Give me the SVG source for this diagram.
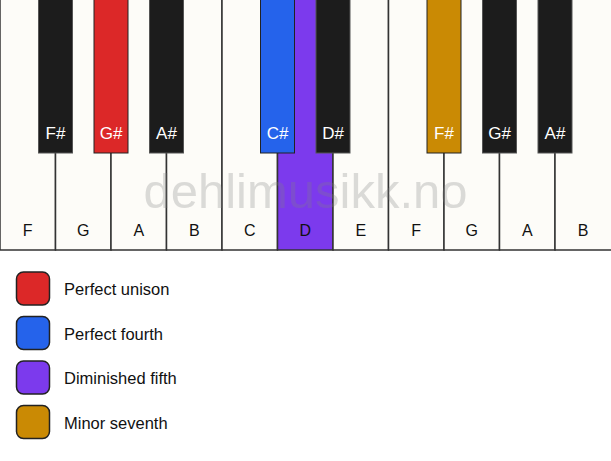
<svg xmlns="http://www.w3.org/2000/svg" width="611" height="461" viewBox="0 0 611 461">
<style>
.w{fill:#fdfcf8;stroke:#333;stroke-width:1.5}
.b{fill:#1c1c1c;stroke:#555;stroke-width:1}
.wl{font-family:"Liberation Sans",Arial,sans-serif;font-size:16px;fill:#111;text-anchor:middle}
.bl{font-family:"Liberation Sans",Arial,sans-serif;font-size:17px;fill:#fff;text-anchor:middle}
.lg{font-family:"Liberation Sans",Arial,sans-serif;font-size:16.5px;fill:#111}
.sw{stroke:#222;stroke-width:1.5}
</style>
<rect width="611" height="461" fill="#fff"/>
<g id="white-keys">
<g id="wF1"><rect class="w" x="0" y="-2" width="55.5" height="252"/><text class="wl" x="27.75" y="236">F</text></g>
<g id="wG1"><rect class="w" x="55.5" y="-2" width="55.5" height="252"/><text class="wl" x="83.25" y="236">G</text></g>
<g id="wA1"><rect class="w" x="111" y="-2" width="55.5" height="252"/><text class="wl" x="138.75" y="236">A</text></g>
<g id="wB1"><rect class="w" x="166.5" y="-2" width="55.5" height="252"/><text class="wl" x="194.25" y="236">B</text></g>
<g id="wC"><rect class="w" x="222" y="-2" width="55.5" height="252"/><text class="wl" x="249.75" y="236">C</text></g>
<g id="wD"><rect class="w" x="277.5" y="-2" width="55.5" height="252" style="fill:#7c3aed"/><text class="wl" x="305.25" y="236">D</text></g>
<g id="wE"><rect class="w" x="333" y="-2" width="55.5" height="252"/><text class="wl" x="360.75" y="236">E</text></g>
<g id="wF2"><rect class="w" x="388.5" y="-2" width="55.5" height="252"/><text class="wl" x="416.25" y="236">F</text></g>
<g id="wG2"><rect class="w" x="444" y="-2" width="55.5" height="252"/><text class="wl" x="471.75" y="236">G</text></g>
<g id="wA2"><rect class="w" x="499.5" y="-2" width="55.5" height="252"/><text class="wl" x="527.25" y="236">A</text></g>
<g id="wB2"><rect class="w" x="555" y="-2" width="57" height="252"/><text class="wl" x="583" y="236">B</text></g>
</g>
<g id="black-keys">
<g id="bFs1"><rect class="b" x="38.5" y="-2" width="34" height="155"/><text class="bl" x="55.5" y="139">F#</text></g>
<g id="bGs1"><rect class="b" x="94" y="-2" width="34" height="155" style="fill:#dc2828;stroke:#222"/><text class="bl" x="111" y="139">G#</text></g>
<g id="bAs1"><rect class="b" x="149.5" y="-2" width="34" height="155"/><text class="bl" x="166.5" y="139">A#</text></g>
<g id="bCs"><rect class="b" x="260.5" y="-2" width="34" height="155" style="fill:#2563eb;stroke:#222"/><text class="bl" x="277.5" y="139">C#</text></g>
<g id="bDs"><rect class="b" x="316" y="-2" width="34" height="155"/><text class="bl" x="333" y="139">D#</text></g>
<g id="bFs2"><rect class="b" x="427" y="-2" width="34" height="155" style="fill:#ca8a04;stroke:#222"/><text class="bl" x="444" y="139">F#</text></g>
<g id="bGs2"><rect class="b" x="482.5" y="-2" width="34" height="155"/><text class="bl" x="499.5" y="139">G#</text></g>
<g id="bAs2"><rect class="b" x="538" y="-2" width="34" height="155"/><text class="bl" x="555" y="139">A#</text></g>
</g>
<text x="305.5" y="208" font-family="'Liberation Sans',Arial,sans-serif" font-size="49" fill="#808080" fill-opacity="0.28" text-anchor="middle">dehlimusikk.no</text>
<g id="legend">
<g id="lg1"><rect class="sw" x="16.5" y="272" width="33" height="33" rx="7" fill="#dc2828"/><text class="lg" x="64" y="295">Perfect unison</text></g>
<g id="lg2"><rect class="sw" x="16.5" y="316.5" width="33" height="33" rx="7" fill="#2563eb"/><text class="lg" x="64" y="339.5">Perfect fourth</text></g>
<g id="lg3"><rect class="sw" x="16.5" y="361" width="33" height="33" rx="7" fill="#7c3aed"/><text class="lg" x="64" y="384">Diminished fifth</text></g>
<g id="lg4"><rect class="sw" x="16.5" y="405.5" width="33" height="33" rx="7" fill="#ca8a04"/><text class="lg" x="64" y="428.5">Minor seventh</text></g>
</g>
</svg>
